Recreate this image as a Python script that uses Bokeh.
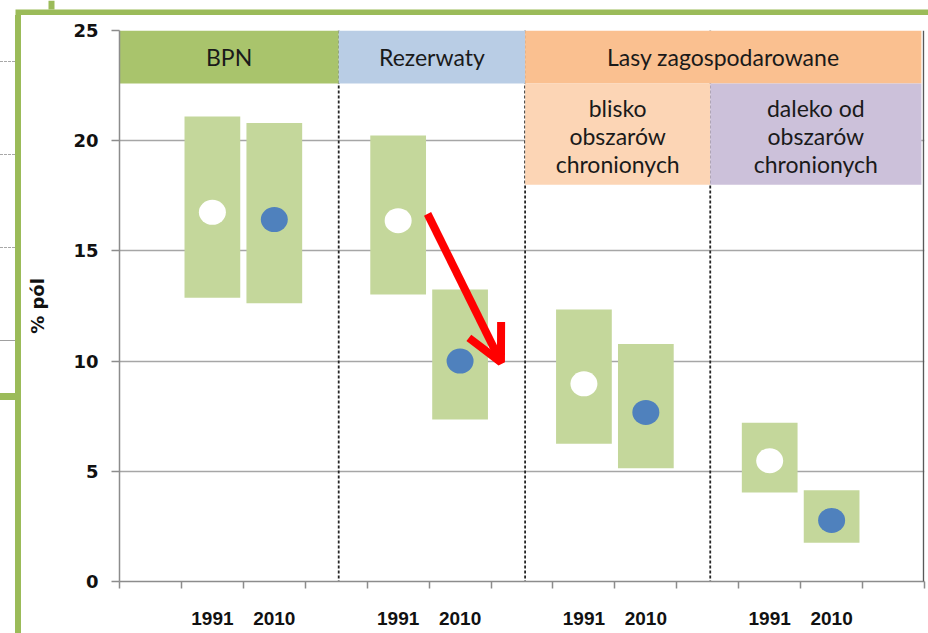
from bokeh.plotting import figure
from bokeh.layouts import column, row
from bokeh.models import (Range1d, FixedTicker, Span, Arrow, OpenHead, Div)
from bokeh.embed import file_html
from bokeh.resources import INLINE
from bokeh.core.properties import value

# ---------------- data ----------------
groups = ["BPN", "Rezerwaty", "Lasy blisko", "Lasy daleko"]
years = ["1991", "2010"]
mean_1991 = [16.75, 16.37, 8.97, 5.48]
mean_2010 = [16.42, 10.0, 7.67, 2.77]
low_1991 = [12.87, 13.02, 6.25, 4.04]
low_2010 = [12.63, 7.35, 5.14, 1.76]
high_1991 = [21.1, 20.24, 12.34, 7.2]
high_2010 = [20.8, 13.25, 10.78, 4.14]
y_ticks = [0, 5, 10, 15, 20, 25]
header_top = ["BPN", "Rezerwaty", "Lasy zagospodarowane"]
header_sub = ["blisko\nobszarów\nchronionych", "daleko od\nobszarów\nchronionych"]

# ---------------- layout helpers ----------------
n_slots = 13
xs, means, lows, highs, colors = [], [], [], [], []
for g in range(len(groups)):
    for j, yr in enumerate(years):
        xs.append(3 * g + 1 + j + 0.5)
        means.append([mean_1991, mean_2010][j][g])
        lows.append([low_1991, low_2010][j][g])
        highs.append([high_1991, high_2010][j][g])
        colors.append(["#ffffff", "#4f81bd"][j])
tick_labels = {x: years[i % 2] for i, x in enumerate(xs)}

bounds = [0, 3.54, 6.55, 9.54, 12.95]

W, H = 928, 633
TOP_H, LEFT_W = 15, 21

p = figure(width=W - LEFT_W, height=H - TOP_H, x_range=Range1d(0, n_slots), y_range=Range1d(0, 25),
           output_backend="svg", toolbar_location=None,
           min_border_left=98, min_border_right=4, min_border_top=15, min_border_bottom=52)
p.background_fill_color = "white"
p.border_fill_color = "white"
p.outline_line_color = None

# grid
p.xgrid.visible = False
p.ygrid.ticker = FixedTicker(ticks=[5, 10, 15, 20])
p.ygrid.grid_line_color = "#a6a6a6"
p.ygrid.grid_line_width = 1.5

# y axis
p.yaxis.ticker = FixedTicker(ticks=y_ticks)
p.yaxis.axis_line_color = "#8c8c8c"
p.yaxis.axis_line_width = 1.5
p.yaxis.major_tick_line_color = "#8c8c8c"
p.yaxis.major_tick_line_width = 1.5
p.yaxis.major_tick_out = 8
p.yaxis.major_tick_in = 0
p.yaxis.minor_tick_out = 0
p.yaxis.minor_tick_in = 0
p.yaxis.major_label_text_font = "DejaVu Sans"
p.yaxis.major_label_text_font_style = "bold"
p.yaxis.major_label_text_font_size = "18px"
p.yaxis.major_label_text_color = "#111111"
p.yaxis.major_label_standoff = 13
p.yaxis.axis_label = "% pól"
p.yaxis.axis_label_text_font = "DejaVu Sans"
p.yaxis.axis_label_text_font_style = "bold"
p.yaxis.axis_label_text_font_size = "18px"
p.yaxis.axis_label_text_color = "#111111"
p.yaxis.axis_label_standoff = 22

# x axis
p.xaxis.ticker = FixedTicker(ticks=xs, minor_ticks=list(range(n_slots + 1)))
p.xaxis.major_label_overrides = tick_labels
p.xaxis.axis_line_color = "#8c8c8c"
p.xaxis.axis_line_width = 1.5
p.xaxis.major_tick_out = 0
p.xaxis.major_tick_in = 0
p.xaxis.minor_tick_out = 7
p.xaxis.minor_tick_in = 0
p.xaxis.minor_tick_line_color = "#8c8c8c"
p.xaxis.minor_tick_line_width = 1.5
p.xaxis.major_label_text_font = "Liberation Sans"
p.xaxis.major_label_text_font_style = "bold"
p.xaxis.major_label_text_font_size = "19px"
p.xaxis.major_label_text_color = "#111111"
p.xaxis.major_label_standoff = 23

# group dividers
for b in bounds[1:4]:
    p.add_layout(Span(location=b, dimension="height", line_color="#262626",
                      line_width=1.8, line_dash="3 2", level="underlay"))

# right edge
p.add_layout(Span(location=12.985, dimension="height", line_color="#595959", line_width=1.5))

# range boxes and markers
p.vbar(x=xs, width=0.9, bottom=lows, top=highs, fill_color="#c4d79b", line_color=None)
p.ellipse(x=xs, y=means, width=27, height=25, width_units="screen", height_units="screen",
          fill_color=colors, line_color=None)

# headers
p.quad(left=bounds[0:3], right=[bounds[1], bounds[2], bounds[4]], bottom=22.6, top=25,
       fill_color=["#a9c46c", "#b9cde5", "#fac090"], line_color=None)
p.quad(left=bounds[2:4], right=bounds[3:5], bottom=18.0, top=22.6,
       fill_color=["#fcd5b5", "#ccc1da"], line_color=None)
p.text(x=[(bounds[0] + bounds[1]) / 2, (bounds[1] + bounds[2]) / 2, (bounds[2] + bounds[4]) / 2],
       y=[23.8] * 3, text=header_top, text_font=value("Lato"), text_font_size="23px",
       text_align="center", text_baseline="middle", text_color="#1a1a1a")
p.text(x=[(bounds[2] + bounds[3]) / 2, (bounds[3] + bounds[4]) / 2], y=[20.2] * 2,
       text=header_sub, text_font=value("Lato"), text_font_size="23px",
       text_align="center", text_baseline="middle", text_color="#1a1a1a",
       text_line_height=1.0)

# red arrow
p.add_layout(Arrow(x_start=4.975, y_start=16.68, x_end=6.16, y_end=9.95,
                   line_color="#ff0000", line_width=8,
                   end=OpenHead(size=36, line_width=8, line_color="#ff0000")))

# ---------------- slide decorations (outside the chart) ----------------
green = "#9bbb59"

top = figure(width=W, height=TOP_H, x_range=Range1d(0, W), y_range=Range1d(TOP_H, 0),
             output_backend="svg", toolbar_location=None, x_axis_type=None, y_axis_type=None,
             min_border=0)
top.grid.visible = False
top.outline_line_color = None
top.background_fill_color = "white"
top.border_fill_color = "white"
top.quad(left=[LEFT_W - 6, 48], right=[W, 54], top=[9, 0], bottom=[TOP_H, 9],
         fill_color=green, line_color=None)


def box(l, t, w, h, style):
    return (f'<div style="position:absolute;left:{l}px;top:{t}px;width:{w}px;'
            f'height:{h}px;{style}"></div>')


lh = H - TOP_H
html = (f'<div style="position:relative;width:{LEFT_W}px;height:{lh}px;background:white">'
        + box(LEFT_W - 6, 0, 6, lh, f"background:{green}")
        + box(0, 393 - TOP_H, LEFT_W - 6, 7, f"background:{green}")
        + "".join(box(0, yy - TOP_H, LEFT_W - 6, 0, "border-top:1px dashed #a8a8a8")
                  for yy in [61, 154, 247])
        + box(0, 340 - TOP_H, LEFT_W - 6, 0, "border-top:1px solid #a0a0a0")
        + '</div>')
left = Div(text=html, width=LEFT_W, height=lh, margin=(0, 0, 0, 0))

layout = column(top, row(left, p, spacing=0), spacing=0)

open("out.html", "w").write(file_html(layout, INLINE))
